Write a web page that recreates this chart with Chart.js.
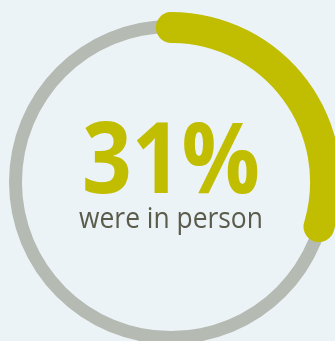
<!DOCTYPE html>
<html>
<head>
<meta charset="utf-8">
<script src="https://cdn.jsdelivr.net/npm/chart.js@4"></script>
<style>
  html, body { margin: 0; padding: 0; width: 335px; height: 341px; overflow: hidden; background: #ecf3f7; }
  .ring { position: absolute; }
  #trackBox { left: 9px; top: 20px; width: 324px; height: 324px; }
  #shareBox { left: 1px; top: 12px; width: 340px; height: 340px; }
</style>
</head>
<body>
<div class="ring" id="trackBox"><canvas id="trackChart"></canvas></div>
<div class="ring" id="shareBox"><canvas id="shareChart"></canvas></div>
<script>
// số liệu
const labels = ['In person', 'Other'];
const values = [31, 69];
const track = [100];
const caption = 'were in person';

const olive = '#c1bd00';

// vòng nền xám
new Chart(document.getElementById('trackChart'), {
  type: 'doughnut',
  data: {
    labels: ['All'],
    datasets: [{ data: track, backgroundColor: '#b5bab3', borderWidth: 0 }]
  },
  options: {
    responsive: true,
    maintainAspectRatio: false,
    animation: false,
    cutout: '92%',
    events: [],
    plugins: { legend: { display: false }, tooltip: { enabled: false } }
  }
});

// chữ ở giữa
const centerText = {
  id: 'centerText',
  afterDatasetsDraw(chart) {
    const ctx = chart.ctx;
    const cx = chart.width / 2;
    const cy = chart.height / 2;
    ctx.save();
    ctx.textAlign = 'center';
    ctx.textBaseline = 'alphabetic';
    ctx.fillStyle = olive;
    ctx.font = 'bold 99px "Open Sans"';
    ctx.save();
    ctx.translate(cx, cy + 11);
    ctx.scale(0.88, 1);
    ctx.fillText(values[0] + '%', 0, 0);
    ctx.restore();
    ctx.fillStyle = '#5b5b4b';
    ctx.font = '30px "Open Sans"';
    ctx.translate(cx, cy + 46);
    ctx.scale(0.88, 1);
    ctx.fillText(caption, 0, 0);
    ctx.restore();
  }
};

// cung màu vàng
new Chart(document.getElementById('shareChart'), {
  type: 'doughnut',
  data: {
    labels: labels,
    datasets: [{
      data: values,
      backgroundColor: [olive, 'rgba(0,0,0,0)'],
      borderWidth: 0,
      borderRadius: [15.5, 0]
    }]
  },
  options: {
    responsive: true,
    maintainAspectRatio: false,
    animation: false,
    cutout: '81.8%',
    rotation: -5.6,
    circumference: 381,
    events: [],
    plugins: { legend: { display: false }, tooltip: { enabled: false } }
  },
  plugins: [centerText]
});
</script>
</body>
</html>
